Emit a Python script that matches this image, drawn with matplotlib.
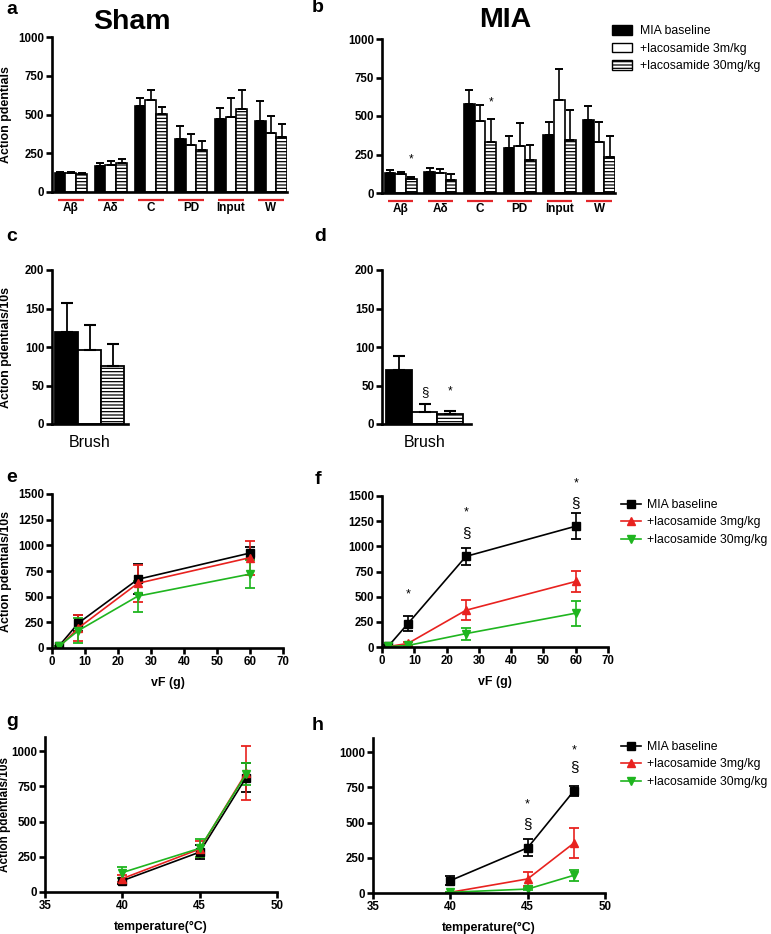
import numpy as np
import matplotlib
matplotlib.use("Agg")
import matplotlib.pyplot as plt
from matplotlib.patches import Patch
from matplotlib.lines import Line2D
import matplotlib.transforms as mtransforms

plt.rcParams['font.family'] = ['Liberation Sans', 'DejaVu Sans']
plt.rcParams['hatch.linewidth'] = 0.9

# ---- data ----
categories = ['Aβ', 'Aδ', 'C', 'PD', 'Input', 'W']

sham_base = [120, 169, 555, 340, 469, 460]
sham_base_err = [12, 15, 53, 86, 75, 125]
sham_3 = [120, 176, 593, 306, 486, 383]
sham_3_err = [10, 27, 62, 69, 120, 107]
sham_30 = [113, 186, 501, 274, 533, 358]
sham_30_err = [8, 30, 45, 56, 124, 81]

mia_base = [128, 137, 576, 291, 376, 474]
mia_base_err = [24, 28, 94, 81, 87, 91]
mia_3 = [124, 128, 467, 302, 607, 328]
mia_3_err = [13, 29, 103, 150, 200, 131]
mia_30 = [89, 87, 333, 213, 346, 237]
mia_30_err = [15, 39, 147, 100, 193, 133]

brush_labels = ['Brush']
brush_sham = [120, 96, 75]
brush_sham_err = [37, 33, 29]
brush_mia = [70, 15, 13]
brush_mia_err = [18, 11, 4]

vf = [2, 8, 26, 60]
e_base = [15, 243, 669, 925]
e_base_err = [8, 78, 145, 60]
e_3 = [5, 195, 630, 880]
e_3_err = [5, 125, 180, 165]
e_30 = [15, 170, 505, 720]
e_30_err = [8, 120, 152, 140]

f_base = [10, 231, 900, 1200]
f_base_err = [6, 75, 83, 130]
f_3 = [5, 35, 365, 651]
f_3_err = [4, 15, 100, 108]
f_30 = [5, 15, 133, 336]
f_30_err = [4, 8, 60, 125]

temp = [40, 45, 48]
g_base = [80, 283, 812]
g_base_err = [20, 50, 105]
g_3 = [95, 305, 845]
g_3_err = [25, 60, 190]
g_30 = [138, 310, 835]
g_30_err = [40, 65, 78]

h_base = [88, 321, 726]
h_base_err = [30, 60, 35]
h_3 = [5, 100, 355]
h_3_err = [4, 50, 108]
h_30 = [5, 28, 126]
h_30_err = [4, 10, 40]

# ---- layout helpers ----
W, H = 771, 934
fig = plt.figure(figsize=(W / 100, H / 100), dpi=100)

TICK = 8.3
LAB = 8.9
LEG = 8.8


def box(l, t, r, b):
    return [l / W, 1 - b / H, (r - l) / W, (b - t) / H]


def style(ax):
    for s in ['top', 'right']:
        ax.spines[s].set_visible(False)
    for s in ['left', 'bottom']:
        ax.spines[s].set_linewidth(1.9)
    ax.tick_params(width=1.9, length=4, labelsize=TICK, pad=1.5)


def yticks(ax, ticks):
    ax.set_yticks(ticks, labels=[str(t) for t in ticks], fontweight='bold')


def grouped(ax, series, errs, ylabel=None):
    n = len(categories)
    w = 0.27
    x0 = np.arange(n)
    fills = [('black', ''), ('white', ''), ('white', '-----')]
    for k, (v, e) in enumerate(zip(series, errs)):
        x = x0 + (k - 1) * w
        ax.bar(x, v, w, color=fills[k][0], edgecolor='black', hatch=fills[k][1], lw=1.2)
        ax.errorbar(x, v, yerr=[np.zeros(n), e], fmt='none', ecolor='black',
                    elinewidth=1.2, capsize=3, capthick=1.4)
    ax.set_xlim(-0.47, 5.4)
    ax.set_ylim(0, 1000)
    style(ax)
    yticks(ax, [0, 250, 500, 750, 1000])
    ax.set_xticks(x0, labels=categories, fontweight='bold', fontsize=8.5)
    ax.tick_params(axis='x', length=0, pad=7)
    trans = mtransforms.blended_transform_factory(ax.transData, ax.transAxes)
    for c in x0:
        ax.plot([c - 0.32, c + 0.32], [-0.052, -0.052], color='#e3262a', lw=1.6,
                transform=trans, clip_on=False, solid_capstyle='butt')
    if ylabel:
        ax.set_ylabel(ylabel, fontweight='bold', fontsize=LAB)
        ax.yaxis.set_label_coords(-40 / 235, 0.5)


def brush(ax, vals, errs, xlim, ylabel=None):
    x = np.arange(3)
    fills = [('black', ''), ('white', ''), ('white', '-----')]
    for k in range(3):
        ax.bar(x[k], vals[k], 1.0, color=fills[k][0], edgecolor='black',
               hatch=fills[k][1], lw=1.3)
    ax.errorbar(x, vals, yerr=[np.zeros(3), errs], fmt='none', ecolor='black',
                elinewidth=1.3, capsize=4, capthick=1.5)
    ax.set_xlim(*xlim)
    ax.set_ylim(0, 200)
    style(ax)
    yticks(ax, [0, 50, 100, 150, 200])
    ax.set_xticks([1], labels=brush_labels, fontsize=11.5)
    ax.tick_params(axis='x', length=0, pad=8)
    if ylabel:
        ax.set_ylabel(ylabel, fontweight='bold', fontsize=LAB)
        ax.yaxis.set_label_coords(-40 / 76, 0.5)


colors = ['black', '#e8221f', '#1fb51f']
markers = ['s', '^', 'v']
line_labels = ['MIA baseline', '+lacosamide 3mg/kg', '+lacosamide 30mg/kg']


def lines(ax, x, series, errs):
    for k, (v, e) in enumerate(zip(series, errs)):
        ax.errorbar(x, v, yerr=e, color=colors[k], marker=markers[k], ms=5.5,
                    lw=1.2, elinewidth=1.2, capsize=3.5, capthick=1.3)
    style(ax)


# ---- panel a / b ----
ax_a = fig.add_axes(box(52, 37, 287, 192))
grouped(ax_a, [sham_base, sham_3, sham_30], [sham_base_err, sham_3_err, sham_30_err],
        ylabel='Action pdentials')
ax_b = fig.add_axes(box(382, 39, 615, 193))
grouped(ax_b, [mia_base, mia_3, mia_30], [mia_base_err, mia_3_err, mia_30_err])
ax_b.text(0 + 0.27, 215, '*', ha='center', va='center', fontsize=8.5)
ax_b.text(2 + 0.27, 590, '*', ha='center', va='center', fontsize=8.5)

fig.text(132 / W, 1 - 22 / H, 'Sham', ha='center', va='center', fontsize=20.5, fontweight='bold')
fig.text(505 / W, 1 - 20 / H, 'MIA', ha='center', va='center', fontsize=20.5, fontweight='bold')

bar_handles = [Patch(facecolor='black', edgecolor='black'),
               Patch(facecolor='white', edgecolor='black'),
               Patch(facecolor='white', edgecolor='black', hatch='-----')]
fig.legend(bar_handles, ['MIA baseline', '+lacosamide 3m/kg', '+lacosamide 30mg/kg'],
           loc='upper left', bbox_to_anchor=(612 / W, 1 - 25 / H), frameon=False,
           borderaxespad=0, borderpad=0, fontsize=LEG, handlelength=1.6,
           handleheight=0.85, handletextpad=0.7, labelspacing=0.45)

# ---- panel c / d ----
ax_c = fig.add_axes(box(52, 270, 128, 424))
brush(ax_c, brush_sham, brush_sham_err, (-0.63, 2.67), ylabel='Action pdentials/10s')
ax_d = fig.add_axes(box(382, 270, 471, 424))
brush(ax_d, brush_mia, brush_mia_err, (-0.65, 2.8))
ax_d.text(1, 42, '§', ha='center', va='center', fontsize=9.5)
ax_d.text(2, 42, '*', ha='center', va='center', fontsize=8.5)

# ---- panel e / f ----
ax_e = fig.add_axes(box(52, 494, 283, 648))
lines(ax_e, vf, [e_base, e_3, e_30], [e_base_err, e_3_err, e_30_err])
ax_f = fig.add_axes(box(382, 496, 608, 647))
lines(ax_f, vf, [f_base, f_3, f_30], [f_base_err, f_3_err, f_30_err])
for ax in (ax_e, ax_f):
    ax.set_xlim(0, 70)
    ax.set_ylim(0, 1500)
    ax.set_xticks(range(0, 71, 10), labels=[str(t) for t in range(0, 71, 10)], fontweight='bold')
    yticks(ax, [0, 250, 500, 750, 1000, 1250, 1500])
    ax.set_xlabel('vF (g)', fontweight='bold', fontsize=LAB, labelpad=7)
ax_e.set_ylabel('Action pdentials/10s', fontweight='bold', fontsize=LAB)
ax_e.yaxis.set_label_coords(-40 / 231, 0.5)
for xx, yy, s in [(8, 520, '*'), (26, 1333, '*'), (26, 1134, '§'), (60, 1625, '*'), (60, 1433, '§')]:
    ax_f.text(xx, yy, s, ha='center', va='center', fontsize=9 if s == '*' else 11,
              clip_on=False)

line_handles = [Line2D([], [], color=colors[k], marker=markers[k], ms=5.5, lw=1.2) for k in range(3)]
leg_kw = dict(loc='upper left', frameon=False, borderaxespad=0, borderpad=0, fontsize=LEG,
              handlelength=1.6, handletextpad=0.5, labelspacing=0.45)
fig.legend(line_handles, line_labels, bbox_to_anchor=(621 / W, 1 - 499 / H), **leg_kw)

# ---- panel g / h ----
ax_g = fig.add_axes(box(45, 737, 277, 892))
lines(ax_g, temp, [g_base, g_3, g_30], [g_base_err, g_3_err, g_30_err])
ax_h = fig.add_axes(box(373, 738, 605, 893))
lines(ax_h, temp, [h_base, h_3, h_30], [h_base_err, h_3_err, h_30_err])
for ax in (ax_g, ax_h):
    ax.set_xlim(35, 50)
    ax.set_ylim(0, 1100)
    ax.set_xticks([35, 40, 45, 50], labels=['35', '40', '45', '50'], fontweight='bold')
    yticks(ax, [0, 250, 500, 750, 1000])
    ax.set_xlabel('temperature(°C)', fontweight='bold', fontsize=LAB, labelpad=7)
ax_g.set_ylabel('Action pdentials/10s', fontweight='bold', fontsize=8.5)
ax_g.yaxis.set_label_coords(-34 / 232, 0.5)
for xx, yy, s in [(45, 631, '*'), (45, 488, '§'), (48, 1011, '*'), (48, 893, '§')]:
    ax_h.text(xx, yy, s, ha='center', va='center', fontsize=9 if s == '*' else 11,
              clip_on=False)
fig.legend(line_handles, line_labels, bbox_to_anchor=(621 / W, 1 - 741 / H), **leg_kw)

# ---- panel letters ----
for lab, px, py in [('a', 12, 10), ('b', 318, 8), ('c', 12, 237), ('d', 320, 237),
                    ('e', 12, 477), ('f', 318, 480), ('g', 12, 722), ('h', 318, 725)]:
    fig.text(px / W, 1 - py / H, lab, ha='center', va='center', fontsize=14, fontweight='bold')

fig.savefig('out.png', dpi=100)
